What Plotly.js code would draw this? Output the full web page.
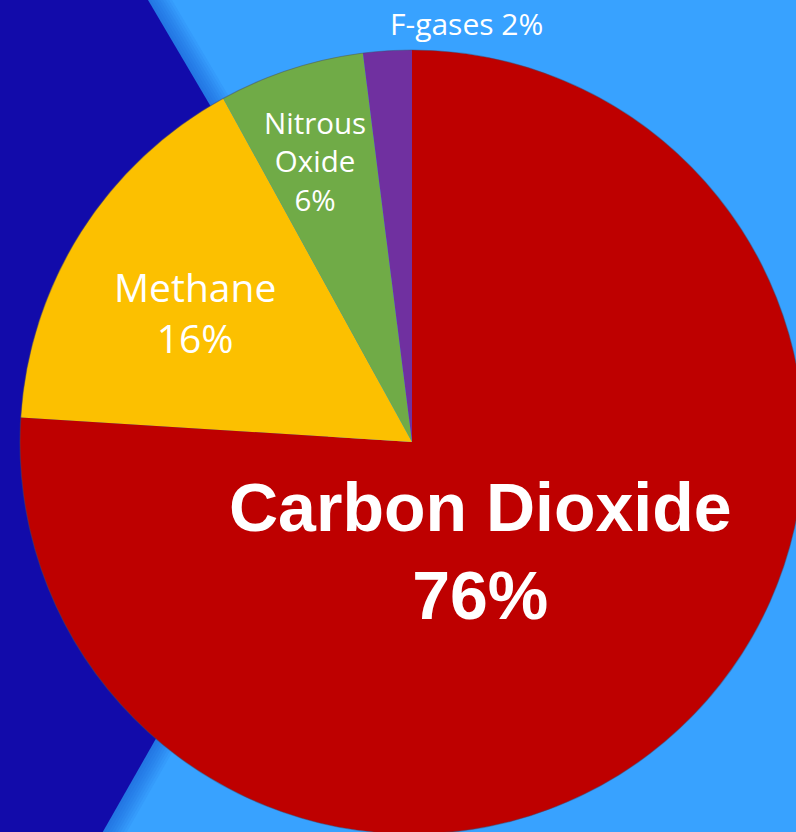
<!DOCTYPE html>
<html>
<head>
<meta charset="utf-8">
<script src="https://cdn.plot.ly/plotly-3.0.1.min.js"></script>
<style>
  html, body { margin: 0; padding: 0; width: 796px; height: 832px; overflow: hidden; background: #38A2FF; }
  #chart { position: absolute; left: 0; top: 0; width: 900px; height: 900px; }
</style>
</head>
<body>
<div id="chart"></div>
<script>
// Share of global greenhouse gas emissions by gas (%)
const gases = ['Carbon Dioxide', 'Methane', 'Nitrous Oxide', 'F-gases'];
const shares = [76, 16, 6, 2];
const sliceColors = ['#BE0000', '#FCC000', '#70AB47', '#7030A0'];

// Frame is larger than the window so the pie runs off the right and bottom edges
const W = 900, H = 900;
const px = x => x / W;
const py = y => 1 - y / H;

// Pie box in pixels: centre (412, 442), radius 392
const cx = 412, cy = 442, R = 392;

// Dark blue chevron behind the pie, plus a soft shadow on its right side
function chevron(dx) {
  const pts = [[0, 0], [148 + dx, 0], [366 + dx, 370], [64 + dx, 900], [0, 900]];
  return 'M ' + pts.map(p => px(p[0]) + ',' + py(p[1])).join(' L ') + ' Z';
}
const shapes = [];
for (let k = 8; k >= 1; k--) {
  shapes.push({
    type: 'path', xref: 'paper', yref: 'paper', layer: 'below',
    path: chevron(k * 3), fillcolor: 'rgba(20,70,200,0.07)', line: { width: 0 }
  });
}
shapes.push({
  type: 'path', xref: 'paper', yref: 'paper', layer: 'below',
  path: chevron(0), fillcolor: '#120BAA', line: { width: 0 }
});
// Thin soft rim around the pie
shapes.push({
  type: 'circle', xref: 'paper', yref: 'paper', layer: 'above',
  x0: px(cx - R), x1: px(cx + R), y0: py(cy + R), y1: py(cy - R),
  line: { color: 'rgba(70,70,100,0.45)', width: 1.2 }, fillcolor: 'rgba(0,0,0,0)'
});

// Label text for each slice, built from the data
const labelText = gases.map((g, i) => {
  if (i === 2) return g.replace(' ', '<br>') + '<br>' + shares[i] + '%';
  if (i === 3) return g + ' ' + shares[i] + '%';
  return g + '<br>' + shares[i] + '%';
});
const labelPos = [[480, 551], [195, 312], [315, 161], [467, 23]];
const labelFont = [
  { family: 'Liberation Sans, Arial, sans-serif', size: 68, color: '#FFFFFF', weight: 'bold' },
  { family: 'Open Sans, sans-serif', size: 39, color: '#FFFFFF' },
  { family: 'Open Sans, sans-serif', size: 29.5, color: '#FFFFFF' },
  { family: 'Open Sans, sans-serif', size: 30, color: '#FFFFFF' }
];
const annotations = labelText.map((t, i) => ({
  text: t, xref: 'paper', yref: 'paper',
  x: px(labelPos[i][0]), y: py(labelPos[i][1]),
  xanchor: 'center', yanchor: 'middle', showarrow: false,
  font: labelFont[i], align: 'center'
}));

const trace = {
  type: 'pie',
  labels: gases,
  values: shares,
  sort: false,
  direction: 'clockwise',
  rotation: 0,
  textinfo: 'none',
  hoverinfo: 'label+percent',
  marker: { colors: sliceColors, line: { width: 0 } },
  domain: { x: [px(cx - R), px(cx + R)], y: [py(cy + R), py(cy - R)] },
  showlegend: false
};

const layout = {
  width: W, height: H,
  margin: { l: 0, r: 0, t: 0, b: 0 },
  paper_bgcolor: '#38A2FF',
  plot_bgcolor: '#38A2FF',
  showlegend: false,
  shapes: shapes,
  annotations: annotations
};

Plotly.newPlot('chart', [trace], layout, { displayModeBar: false, staticPlot: true });
</script>
</body>
</html>
